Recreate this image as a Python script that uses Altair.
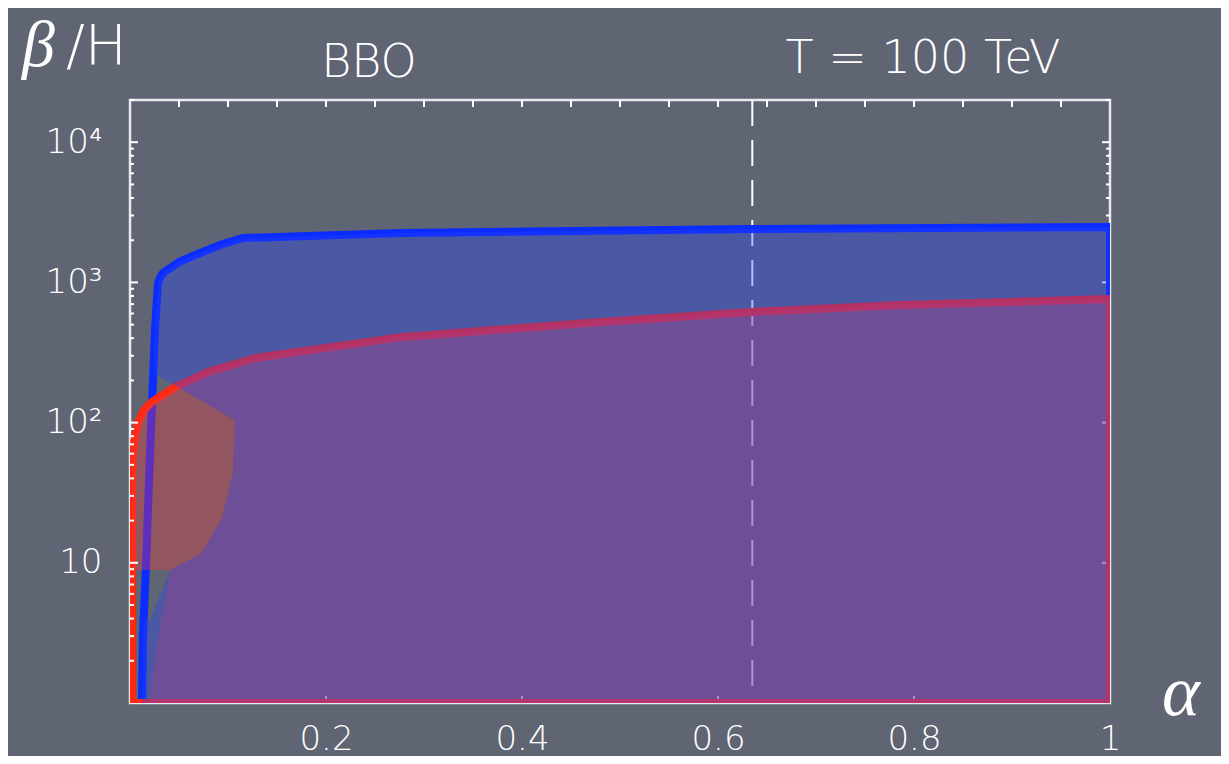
import altair as alt
import pandas as pd

# ---------------- data ----------------
# upper (blue) boundary curve
blue_alpha = [0.0122, 0.0133, 0.0163, 0.0194, 0.0224, 0.0255, 0.0286, 0.031, 0.0337, 0.050, 0.0714, 0.092, 0.115, 0.276, 0.635, 1.0, 1.0]
blue_beta = [1, 3.16, 9.3, 39, 129, 458, 991, 1090, 1167, 1400, 1621, 1850, 2074, 2250, 2404, 2484, 760]

# red boundary (closed outline: curve, right edge, bottom edge)
red_alpha = [0.002, 0.002, 0.003, 0.005, 0.008, 0.014, 0.022, 0.046, 0.080, 0.128, 0.276, 0.480, 0.635, 0.786, 1.0, 1.0, 0.002]
red_beta = [1, 40, 60, 80, 100, 122, 140, 179, 230, 289, 407, 522, 616, 689, 760, 1, 1]

# red filled region
rfill_alpha = [0.002, 0.002, 0.003, 0.005, 0.008, 0.014, 0.022, 0.046, 0.080, 0.128, 0.276, 0.480, 0.635, 0.786, 1.0, 1.0, 0.019, 0.025, 0.032, 0.041]
rfill_beta = [8.9, 40, 60, 80, 100, 122, 140, 179, 230, 289, 407, 522, 616, 689, 760, 1, 1, 2.0, 4.0, 8.9]

# blue filled region
bfill_alpha = [0.0122, 0.0138, 0.0204, 0.041, 0.073, 0.094, 0.105, 0.107, 0.024, 0.0255, 0.0286, 0.031, 0.0337, 0.050, 0.0714, 0.092, 0.115, 0.276, 0.635, 1.0, 1.0]
bfill_beta = [1, 3.9, 3.9, 8.9, 11.7, 21, 44, 104, 226, 458, 991, 1090, 1167, 1400, 1621, 1850, 2074, 2250, 2404, 2484, 1]

dashed_alpha = [0.635]

x_tick_values = [0.2, 0.4, 0.6, 0.8, 1.0]
x_tick_labels = ["0.2", "0.4", "0.6", "0.8", "1"]
y_tick_values = [10, 100, 1000, 10000]
y_tick_labels = ["10", "10²", "10³", "10⁴"]

top_minor = [round(0.05 * i, 2) for i in range(1, 20)]
bottom_minor = [0.2, 0.4, 0.6, 0.8]
y_major = [10, 100, 1000, 10000]
y_minor = [m * 10 ** k for k in range(0, 4) for m in range(2, 10)] + [20000]

# ---------------- helpers ----------------
W, H = 980, 603
BG = "#5f6572"
FONT = "DejaVu Sans"
SERIF = "Liberation Serif"


def path_df(a, b):
    return pd.DataFrame({"alpha": a, "beta": b, "i": list(range(len(a)))})


xs = alt.Scale(domain=[0, 1], nice=False, zero=False)
ys = alt.Scale(type="log", domain=[1, 20000], nice=False)

x_expr = " : ".join(f"datum.value == {v} ? '{t}'" for v, t in zip(x_tick_values, x_tick_labels)) + " : ''"
y_expr = " : ".join(f"datum.value == {v} ? '{t}'" for v, t in zip(y_tick_values, y_tick_labels)) + " : ''"

xaxis = alt.Axis(values=x_tick_values, labelExpr=x_expr, domain=False, ticks=False, grid=False,
                 labelFontSize=34, labelFont=FONT, labelFontWeight=200, labelColor="white",
                 labelPadding=19, labelFlush=False, labelOverlap=False)
yaxis = alt.Axis(values=y_tick_values, labelExpr=y_expr, domain=False, ticks=False, grid=False,
                 labelFontSize=34, labelFont=FONT, labelFontWeight=200, labelColor="white",
                 labelPadding=28, labelFlush=False, labelOverlap=False, labelBaseline="middle")

X = alt.X("alpha:Q", scale=xs, axis=xaxis, title=None)
Y = alt.Y("beta:Q", scale=ys, axis=yaxis, title=None)

# dashed vertical line
dashed = alt.Chart(pd.DataFrame({"alpha": dashed_alpha})).mark_rule(
    color="white", strokeWidth=2, strokeDash=[26, 14]).encode(x=X)

# ticks drawn under the fills
bottom_ticks = alt.Chart(pd.DataFrame({"alpha": bottom_minor})).mark_rule(
    color="white", strokeWidth=2).encode(x=X, y=alt.value(H), y2=alt.value(H - 7))
right_major = alt.Chart(pd.DataFrame({"beta": y_major})).mark_rule(
    color="white", strokeWidth=2).encode(y=Y, x=alt.value(W), x2=alt.value(W - 8))
right_minor = alt.Chart(pd.DataFrame({"beta": y_minor})).mark_rule(
    color="white", strokeWidth=2).encode(y=Y, x=alt.value(W), x2=alt.value(W - 4))

blue_line = alt.Chart(path_df(blue_alpha, blue_beta)).mark_line(
    color="#0a2cff", strokeWidth=8, strokeJoin="round", strokeCap="butt", clip=True).encode(
    x=X, y=Y, order="i:Q")
red_line = alt.Chart(path_df(red_alpha, red_beta)).mark_line(
    color="#ff2810", strokeWidth=8, strokeJoin="round", strokeCap="butt", clip=True).encode(
    x=X, y=Y, order="i:Q")

red_fill = alt.Chart(path_df(rfill_alpha, rfill_beta)).mark_line(
    fill="#f7383f", fillOpacity=0.35, strokeOpacity=0, strokeWidth=0).encode(
    x=X, y=Y, order="i:Q")
blue_fill = alt.Chart(path_df(bfill_alpha, bfill_beta)).mark_line(
    fill="#2843ff", fillOpacity=0.35, strokeOpacity=0, strokeWidth=0).encode(
    x=X, y=Y, order="i:Q")

# ticks drawn over
left_major = alt.Chart(pd.DataFrame({"beta": y_major})).mark_rule(
    color="white", strokeWidth=2).encode(y=Y, x=alt.value(0), x2=alt.value(8))
left_minor = alt.Chart(pd.DataFrame({"beta": y_minor})).mark_rule(
    color="white", strokeWidth=2).encode(y=Y, x=alt.value(0), x2=alt.value(4))
top_ticks = alt.Chart(pd.DataFrame({"alpha": top_minor})).mark_rule(
    color="white", strokeWidth=2).encode(x=X, y=alt.value(0), y2=alt.value(7))

# texts
title_bbo = alt.Chart(pd.DataFrame({"t": ["BBO"]})).mark_text(
    font=FONT, fontWeight=200, fontSize=46, color="white", align="center", baseline="alphabetic").encode(
    text="t:N", x=alt.value(239), y=alt.value(-23))
title_T = alt.Chart(pd.DataFrame({"t": ["T = 100 TeV"]})).mark_text(
    font=FONT, fontWeight=200, fontSize=46, color="white", align="center", baseline="alphabetic").encode(
    text="t:N", x=alt.value(793), y=alt.value(-27))
beta_lbl = alt.Chart(pd.DataFrame({"t": ["β"]})).mark_text(
    font=SERIF, fontStyle="italic", fontSize=66, color="white", align="left",
    baseline="alphabetic").encode(text="t:N", x=alt.value(-108), y=alt.value(-34))
overH_lbl = alt.Chart(pd.DataFrame({"t": ["/H"]})).mark_text(
    font=FONT, fontWeight=200, fontSize=56, color="white", align="left", baseline="alphabetic").encode(
    text="t:N", x=alt.value(-64), y=alt.value(-36))
alpha_lbl = alt.Chart(pd.DataFrame({"t": ["α"]})).mark_text(
    font=SERIF, fontStyle="italic", fontSize=72, color="white", align="left",
    baseline="alphabetic").encode(text="t:N", x=alt.value(1032), y=alt.value(615))

chart = alt.layer(
    dashed, bottom_ticks, right_major, right_minor,
    blue_line, red_line, red_fill, blue_fill,
    left_major, left_minor, top_ticks,
    title_bbo, title_T, beta_lbl, overH_lbl, alpha_lbl,
).properties(
    width=W, height=H,
    autosize=alt.AutoSizeParams(type="none"),
    padding={"left": 122, "top": 92, "right": 111, "bottom": 53},
    background=BG,
).configure_view(
    fill=BG, stroke="#e8e8ee", strokeWidth=2.5,
)

chart.save("out.html", embed_options={"renderer": "svg", "actions": False})
